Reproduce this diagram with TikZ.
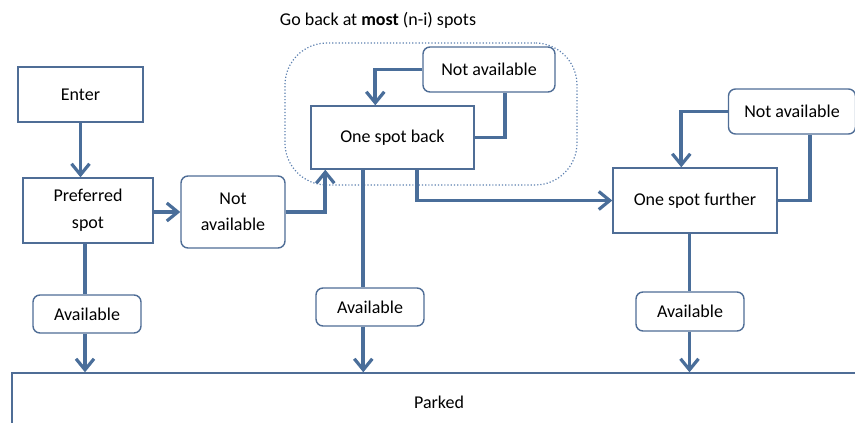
\documentclass[tikz,border=0pt]{standalone}
\usepackage{fontspec}
\setmainfont{Carlito}
\usetikzlibrary{arrows.meta,calc}
\definecolor{boxc}{HTML}{4F6D96}
\definecolor{linec}{HTML}{4A6E9A}
\definecolor{dotc}{HTML}{5B7FAF}
\begin{document}
\begin{tikzpicture}[x=1pt,y=-1pt,
  every node/.style={font=\fontsize{18}{21}\selectfont, text=black},
  sbox/.style={draw=boxc, line width=1.4pt, fill=white, align=center, inner sep=0pt},
  rbox/.style={sbox, rounded corners=7pt},
  conn/.style={draw=linec, line width=3.8pt},
  arr/.style={conn, -{Straight Barb[length=11pt,width=18pt,line width=3.2pt]}}]
\useasboundingbox (0,0) rectangle (855,423);
\node[draw=dotc, dotted, line width=1.2pt, rounded corners=42pt, minimum width=292pt, minimum height=142pt, inner sep=0pt] (grp) at (431,114) {};
\node (title) at (378,20) {Go back at \textbf{most} (n-i) spots};
\node[sbox, minimum width=125pt, minimum height=55pt] (enter) at (80.5,94.5) {Enter};
\node[sbox, minimum width=130pt, minimum height=65pt] (pref) at (88,210.5) {Preferred\\[6pt]spot};
\node[rbox, minimum width=104pt, minimum height=72pt] (na1) at (233,212) {Not\\[5pt]available};
\node[sbox, minimum width=163pt, minimum height=63pt] (back) at (392.5,137.5) {One spot back};
\node[rbox, minimum width=132pt, minimum height=45pt] (na2) at (489,69.5) {Not available};
\node[sbox, minimum width=164pt, minimum height=65pt] (further) at (695,200.5) {One spot further};
\node[rbox, minimum width=127pt, minimum height=45pt] (na3) at (792,111.5) {Not available};
\node[rbox, minimum width=108pt, minimum height=38pt] (av1) at (87,314) {Available};
\node[rbox, minimum width=108pt, minimum height=38pt] (av2) at (370,307) {Available};
\node[rbox, minimum width=108pt, minimum height=39pt] (av3) at (690,311.5) {Available};
\node[sbox, minimum width=854pt, minimum height=58pt, fill=none] (parked) at (439,402) {Parked};
% connectors
\draw[arr] (enter.south) -- (enter.south |- pref.north);
\draw[arr] (pref.east |- na1.west) -- (na1.west);
\coordinate (b1) at ($(back.south west)+(15,0)$);
\draw[arr] (na1.east) -| (b1);
\coordinate (b2) at ($(back.north west)+(65,0)$);
\draw[arr] (na2.west) -| (b2);
\coordinate (n2) at ($(na2.south west)+(83,0)$);
\draw[conn] (back.east) -| (n2);
\coordinate (b3) at ($(back.south west)+(107,0)$);
\draw[arr] (b3) |- (further.west);
\coordinate (b4) at ($(back.south west)+(53,0)$);
\draw[conn] (b4) -- (b4 |- av2.north);
\draw[arr] (b4 |- av2.south) -- (b4 |- parked.north);
\coordinate (p1) at (85,0);
\draw[conn] (p1 |- pref.south) -- (p1 |- av1.north);
\draw[arr] (p1 |- av1.south) -- (p1 |- parked.north);
\coordinate (f1) at (689.5,0);
\draw[conn] (f1 |- further.south) -- (f1 |- av3.north);
\draw[arr] (f1 |- av3.south) -- (f1 |- parked.north);
\coordinate (f2) at ($(further.north west)+(69,0)$);
\draw[arr] (na3.west) -| (f2);
\coordinate (n3) at ($(na3.south west)+(82,0)$);
\draw[conn] (further.east) -| (n3);
\end{tikzpicture}
\end{document}
